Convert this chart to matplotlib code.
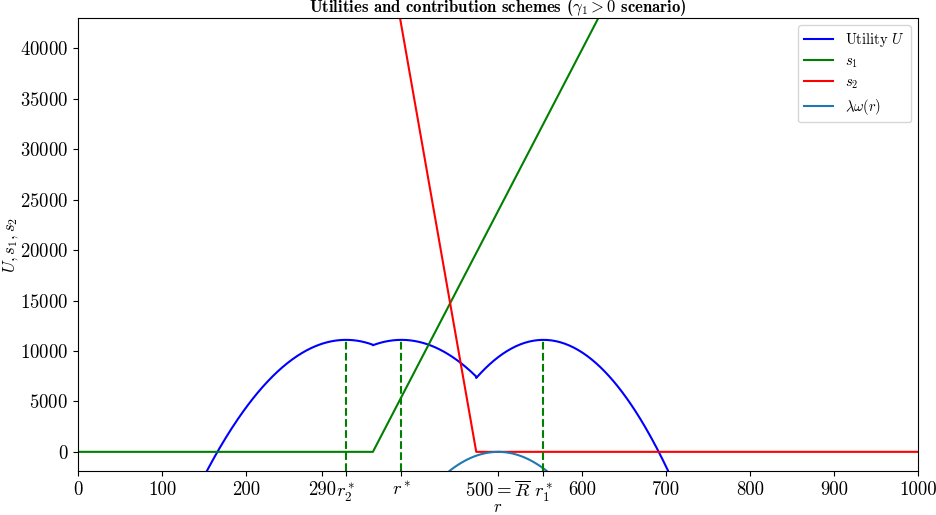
import matplotlib
matplotlib.use("Agg")
import matplotlib.pyplot as plt
import numpy as np

plt.rcParams["font.family"] = "serif"
plt.rcParams["font.serif"] = ["cmr10"]
plt.rcParams["mathtext.fontset"] = "cm"
plt.rcParams["axes.unicode_minus"] = False
plt.rcParams["axes.formatter.use_mathtext"] = True

# optimal returns and reference level
r2_star = 319
r_star = 385
r1_star = 554
R_bar = 500

# utility branches: (start, end, vertex, peak value, curvature)
u_branches = [
    (0, 351, r2_star, 11100, 0.474),
    (351, 474, r_star, 11100, 0.46),
    (474, 1000, r1_star, 11100, 0.59),
]

# contribution schemes as piecewise linear knots
s1_r = [0, 351, 1000]
s1_vals = [0, 0, 104000]
s2_r = [0, 474, 1000]
s2_vals = [224700, 0, 0]

# lambda * omega(r), peak at R_bar
lam_omega_curv = 0.565

x_ticks = [0, 100, 200, 290, r2_star, r_star, R_bar, r1_star, 600, 700, 800, 900, 1000]
x_labels = ["0", "100", "200", "290", r"$r_2^*$", r"$r^*$", r"$500=\overline{R}$", r"$r_1^*$",
            "600", "700", "800", "900", "1000"]
y_lim = (-1900, 43000)

fig = plt.figure(figsize=(9.36, 5.15), dpi=100)
ax = fig.add_axes([0.0833, 0.0854, 0.8977, 0.8796])

r_u, u_vals = [], []
for a, b, v, peak, k in u_branches:
    rr = np.linspace(a, b, 300)
    r_u.append(rr)
    u_vals.append(peak - k * (rr - v) ** 2)
r_u = np.concatenate(r_u)
u_vals = np.concatenate(u_vals)

r_lw = np.linspace(400, 600, 300)
lw_vals = -lam_omega_curv * (r_lw - R_bar) ** 2

ax.plot(r_u, u_vals, color="blue", label=r"Utility $U$")
ax.plot(s1_r, s1_vals, color="green", label=r"$s_1$")
ax.plot(s2_r, s2_vals, color="red", label=r"$s_2$")
ax.plot(r_lw, lw_vals, color="#1f77b4", label=r"$\lambda\omega(r)$")

for rs in [r2_star, r_star, r1_star]:
    ax.vlines(rs, y_lim[0], 11100, colors="green", linestyles="--")

ax.set_xlim(0, 1000)
ax.set_ylim(*y_lim)
ax.set_xticks(x_ticks)
ax.set_xticklabels(x_labels)
ax.set_yticks(np.arange(0, 40001, 5000))
ax.tick_params(labelsize=13.5)
ax.set_xlabel(r"$r$", fontsize=12)
ax.xaxis.set_label_coords(0.5, -0.064)
ax.set_ylabel(r"$U, s_1, s_2$", fontsize=12)
ax.yaxis.set_label_coords(-0.069, 0.5)
ax.set_title(r"Utilities and contribution schemes ($\gamma_1 > 0$ scenario)",
             fontfamily="cmb10", fontsize=12, pad=0)
ax.legend(loc="upper right", fontsize=10.5, labelspacing=0.39)

fig.savefig("out.png", dpi=100)
